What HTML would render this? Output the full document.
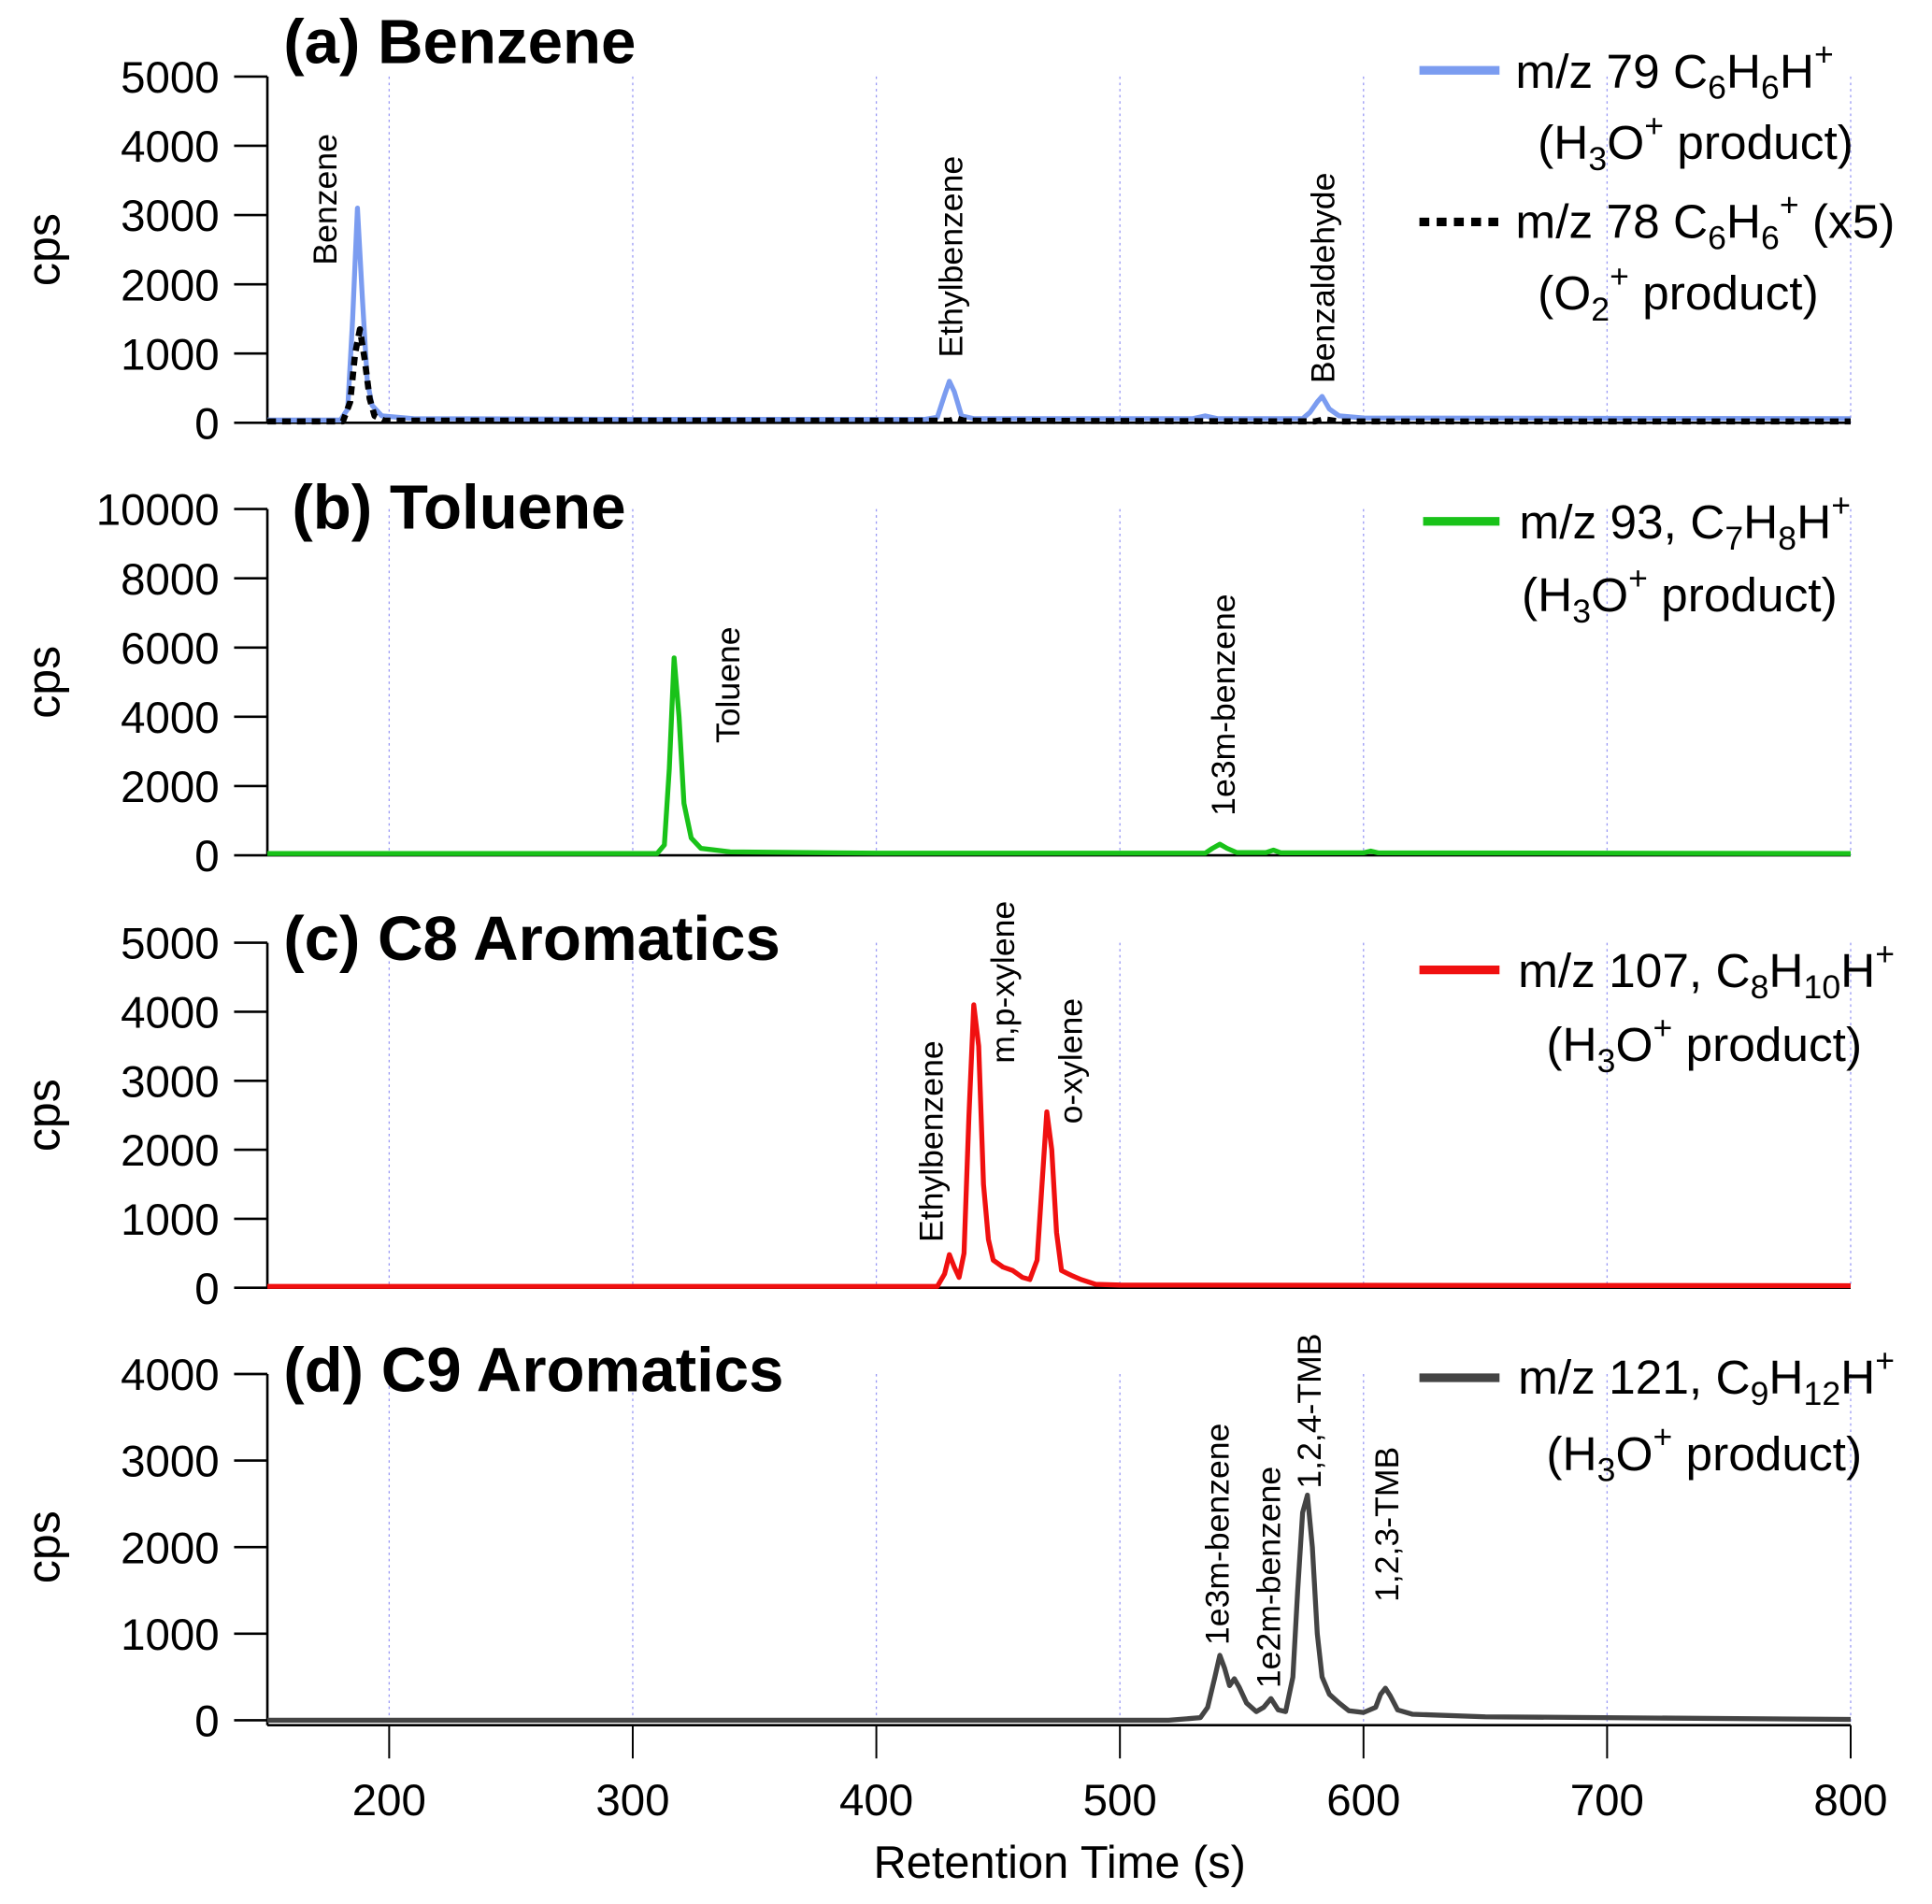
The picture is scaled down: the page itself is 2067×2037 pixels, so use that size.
<!DOCTYPE html>
<html><head><meta charset="utf-8"><style>
html,body{margin:0;padding:0;background:#fff;}
svg{display:block;font-family:"Liberation Sans",Arial,sans-serif;}
</style></head><body>
<svg id="chart" width="2067" height="2037" viewBox="0 0 1568 1545" xmlns="http://www.w3.org/2000/svg">
<g id="grid"></g><g id="axes"></g><g id="series"></g><g id="labels"></g>
<g id="legends" font-size="39">
 <g>
  <line x1="1152" y1="57" x2="1217" y2="57" stroke="#7b9cf0" stroke-width="7"/>
  <text x="1230" y="71">m/z 79 C<tspan font-size="27" dy="9">6</tspan><tspan dy="-9">H</tspan><tspan font-size="27" dy="9">6</tspan><tspan dy="-9">H</tspan><tspan font-size="27" dy="-18">+</tspan></text>
  <text x="1248" y="129">(H<tspan font-size="27" dy="9">3</tspan><tspan dy="-9">O</tspan><tspan font-size="27" dy="-18">+</tspan><tspan dy="18"> product)</tspan></text>
  <line x1="1152" y1="180" x2="1217" y2="180" stroke="#000" stroke-width="7" stroke-dasharray="8,6"/>
  <text x="1230" y="193">m/z 78 C<tspan font-size="27" dy="9">6</tspan><tspan dy="-9">H</tspan><tspan font-size="27" dy="9">6</tspan><tspan font-size="27" dy="-27">+</tspan><tspan dy="18"> (x5)</tspan></text>
  <text x="1248" y="251">(O<tspan font-size="27" dy="9">2</tspan><tspan font-size="27" dy="-27">+</tspan><tspan dy="18"> product)</tspan></text>
 </g>
 <g>
  <line x1="1155" y1="423" x2="1217" y2="423" stroke="#19c219" stroke-width="7"/>
  <text x="1233" y="437">m/z 93, C<tspan font-size="27" dy="9">7</tspan><tspan dy="-9">H</tspan><tspan font-size="27" dy="9">8</tspan><tspan dy="-9">H</tspan><tspan font-size="27" dy="-18">+</tspan></text>
  <text x="1235" y="496">(H<tspan font-size="27" dy="9">3</tspan><tspan dy="-9">O</tspan><tspan font-size="27" dy="-18">+</tspan><tspan dy="18"> product)</tspan></text>
 </g>
 <g>
  <line x1="1152" y1="787" x2="1217" y2="787" stroke="#f01010" stroke-width="7"/>
  <text x="1232" y="801">m/z 107, C<tspan font-size="27" dy="9">8</tspan><tspan dy="-9">H</tspan><tspan font-size="27" dy="9">10</tspan><tspan dy="-9">H</tspan><tspan font-size="27" dy="-18">+</tspan></text>
  <text x="1255" y="861">(H<tspan font-size="27" dy="9">3</tspan><tspan dy="-9">O</tspan><tspan font-size="27" dy="-18">+</tspan><tspan dy="18"> product)</tspan></text>
 </g>
 <g>
  <line x1="1152" y1="1118" x2="1217" y2="1118" stroke="#444" stroke-width="7"/>
  <text x="1232" y="1131">m/z 121, C<tspan font-size="27" dy="9">9</tspan><tspan dy="-9">H</tspan><tspan font-size="27" dy="9">12</tspan><tspan dy="-9">H</tspan><tspan font-size="27" dy="-18">+</tspan></text>
  <text x="1255" y="1193">(H<tspan font-size="27" dy="9">3</tspan><tspan dy="-9">O</tspan><tspan font-size="27" dy="-18">+</tspan><tspan dy="18"> product)</tspan></text>
 </g>
</g>
</svg>
<script>
const xTicks = [200,300,400,500,600,700,800];
const aTicks = [0,1000,2000,3000,4000,5000];
const bTicks = [0,2000,4000,6000,8000,10000];
const cTicks = [0,1000,2000,3000,4000,5000];
const dTicks = [0,1000,2000,3000,4000];
const aBlueT = [150,180,183,185,187,189,191,193,197,210,300,420,425,428,430,432,435,440,530,535,540,575,578,581,583,586,590,600,800];
const aBlueV = [40,40,200,1500,3100,1800,600,250,100,60,50,50,80,400,600,450,100,60,60,100,60,60,150,300,380,200,100,70,60];
const aBlackT = [150,181,184,186,188,190,192,194,198,430,433,436,580,584,590,800];
const aBlackV = [20,20,300,1000,1350,900,350,100,30,30,60,30,20,50,20,20];
const bGreenT = [150,310,313,315,317,319,321,324,328,340,400,535,538,541,544,548,560,563,566,600,603,606,800];
const bGreenV = [50,50,300,2500,5700,4000,1500,500,200,100,60,60,200,320,200,80,80,150,70,70,120,70,50];
const cRedT = [150,425,428,430,432,434,436,438,440,442,444,446,448,452,456,460,463,466,468,470,472,474,476,480,484,490,500,800];
const cRedV = [20,20,200,480,300,150,500,2500,4100,3500,1500,700,400,300,250,150,120,400,1500,2550,2000,800,250,180,120,50,40,30];
const dGrayT = [150,520,533,536,539,541,543,545,547,549,552,556,559,562,565,568,571,573,575,577,579,581,583,586,590,594,600,605,607,609,611,614,620,650,800];
const dGrayV = [0,0,30,150,500,750,600,400,480,380,200,100,150,250,120,100,500,1500,2400,2600,2000,1000,500,300,200,110,90,150,300,370,280,120,70,40,10];

const NS="http://www.w3.org/2000/svg";
function el(tag, attrs, parent, txt){const e=document.createElementNS(NS,tag);for(const k in attrs)e.setAttribute(k,attrs[k]);if(txt!==undefined)e.textContent=txt;parent.appendChild(e);return e;}
const X0=217, X1=1502;
function xs(t){return X0+(t-150)/(800-150)*(X1-X0);}
const panels=[
 {id:'a',top:62,zero:343,max:5000,ticks:aTicks,title:'(a) Benzene',tx:230,ty:51},
 {id:'b',top:413,zero:694,max:10000,ticks:bTicks,title:'(b) Toluene',tx:237,ty:429},
 {id:'c',top:765,zero:1045,max:5000,ticks:cTicks,title:'(c) C8 Aromatics',tx:230,ty:779},
 {id:'d',top:1115,zero:1396,max:4000,ticks:dTicks,title:'(d) C9 Aromatics',tx:230,ty:1129}
];
function ys(p,v){return p.zero-(v/p.max)*(p.zero-p.top);}
const G=document.getElementById('grid'),A=document.getElementById('axes'),S=document.getElementById('series'),L=document.getElementById('labels');
panels.forEach(p=>{
 const bottom = p.id==='d'?1400:p.zero;
 xTicks.forEach(t=>{
  const g=el('line',{x1:xs(t),x2:xs(t),y1:p.top,y2:bottom,stroke:'#9a9af5','stroke-width':1,'stroke-dasharray':'2,3'},G);
  
  
 });
 const ax=el('line',{x1:X0,x2:X0,y1:p.top,y2:bottom,stroke:'#000','stroke-width':2},A);
 
 
 p.ticks.forEach(v=>{
  const y=ys(p,v);
  el('line',{x1:190,x2:X0,y1:y,y2:y,stroke:'#000','stroke-width':2},A);
  const tl=el('text',{x:178,y:y+13,'font-size':36,'text-anchor':'end'},L,String(v));
  
  
 });
 const xa=el('line',{x1:X0,x2:X1,y1:bottom,y2:bottom,stroke:'#000','stroke-width':2},A);
 
 
 const cy=(p.top+p.zero)/2;
 const yt=el('text',{x:0,y:0,'font-size':38,'text-anchor':'middle',transform:`translate(48,${cy}) rotate(-90)`},L,'cps');
 
 
 const ti=el('text',{x:p.tx,y:p.ty,'font-size':51,'font-weight':'bold'},L,p.title);
 
 
});
xTicks.forEach(t=>{
 el('line',{x1:xs(t),x2:xs(t),y1:1400,y2:1427,stroke:'#000','stroke-width':1.5},A);
 const tl=el('text',{x:xs(t),y:1473,'font-size':36,'text-anchor':'middle'},L,String(t));
 
 
});
const xt=el('text',{x:860,y:1524,'font-size':37,'text-anchor':'middle'},L,'Retention Time (s)');


function drawLine(p,T,V,color,name,dash){
 const d=T.map((t,i)=>(i?'L':'M')+xs(t).toFixed(1)+','+ys(p,V[i]).toFixed(1)).join('');
 const a={d:d,fill:'none',stroke:color,'stroke-width':dash?5:4,'stroke-linejoin':'round'};
 if(dash)a['stroke-dasharray']='7,5';
 const e=el('path',a,S);
 
 
}
drawLine(panels[0],aBlueT,aBlueV,'#7b9cf0','series-mz79');
drawLine(panels[0],aBlackT,aBlackV,'#000','series-mz78',true);
drawLine(panels[1],bGreenT,bGreenV,'#19c219','series-mz93');
drawLine(panels[2],cRedT,cRedV,'#f01010','series-mz107');
drawLine(panels[3],dGrayT,dGrayV,'#444','series-mz121');
const ann=[[263,215,'Benzene'],[771,290,'Ethylbenzene'],[1073,311,'Benzaldehyde'],[590,603,'Toluene'],[992,662,'1e3m-benzene'],
 [755,1008,'Ethylbenzene'],[813,863,'m,p-xylene'],[868,912,'o-xylene'],[987,1335,'1e3m-benzene'],[1029,1370,'1e2m-benzene'],[1062,1208,'1,2,4-TMB'],[1125,1300,'1,2,3-TMB']];
ann.forEach(a=>{
 const e=el('text',{x:0,y:0,'font-size':27,transform:`translate(${a[0]+10},${a[1]}) rotate(-90)`},L,a[2]);
 
 
});
</script>
</body></html>
